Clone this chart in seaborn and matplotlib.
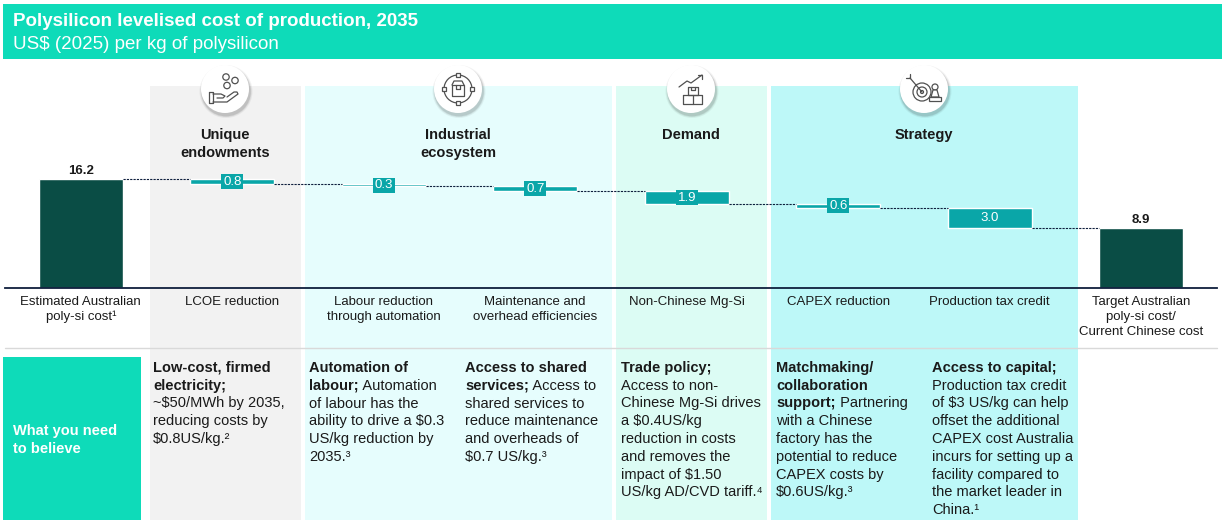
import numpy as np
import pandas as pd
import matplotlib
matplotlib.use("Agg")
import matplotlib.pyplot as plt
from matplotlib.patches import Rectangle, Circle, Polygon
import seaborn as sns

# values, US$ (2025) per kg of polysilicon
categories = [
    "Estimated Australian\npoly-si cost\u00b9",
    "LCOE reduction",
    "Labour reduction\nthrough automation",
    "Maintenance and\noverhead efficiencies",
    "Non-Chinese Mg-Si",
    "CAPEX reduction",
    "Production tax credit",
    "Target Australian\npoly-si cost/\nCurrent Chinese cost",
]
start_cost = 16.2
end_cost = 8.9
reductions = [0.8, 0.3, 0.7, 1.9, 0.6, 3.0]

groups = ["Unique\nendowments", "Industrial\necosystem", "Demand", "Strategy"]

# "what you need to believe" notes: (bold part, regular part) per line
notes = [
    [("Low-cost, firmed", ""), ("electricity;", ""), ("", "~$50/MWh by 2035,"),
     ("", "reducing costs by"), ("", "$0.8US/kg.\u00b2")],
    [("Automation of", ""), ("labour;", " Automation"), ("", "of labour has the"),
     ("", "ability to drive a $0.3"), ("", "US/kg reduction by"), ("", "2035.\u00b3")],
    [("Access to shared", ""), ("services;", " Access to"), ("", "shared services to"),
     ("", "reduce maintenance"), ("", "and overheads of"), ("", "$0.7 US/kg.\u00b3")],
    [("Trade policy;", ""), ("", "Access to non-"), ("", "Chinese Mg-Si drives"),
     ("", "a $0.4US/kg"), ("", "reduction in costs"), ("", "and removes the"),
     ("", "impact of $1.50"), ("", "US/kg AD/CVD tariff.\u2074")],
    [("Matchmaking/", ""), ("collaboration", ""), ("support;", " Partnering"),
     ("", "with a Chinese"), ("", "factory has the"), ("", "potential to reduce"),
     ("", "CAPEX costs by"), ("", "$0.6US/kg.\u00b3")],
    [("Access to capital;", ""), ("", "Production tax credit"), ("", "of $3 US/kg can help"),
     ("", "offset the additional"), ("", "CAPEX cost Australia"), ("", "incurs for setting up a"),
     ("", "facility compared to"), ("", "the market leader in"), ("", "China.\u00b9")],
]

BANNER = "#0EDBB9"
DARK = "#0A4D45"
TEAL = "#0AA6A8"
NAVY = "#0F1F3D"
TXT = "#1A1A1A"
ICON = "#505050"

sns.set_theme(style="white")
plt.rcParams["font.family"] = ["Liberation Sans", "DejaVu Sans"]

W, H = 1226, 526
fig = plt.figure(figsize=(W / 100, H / 100), dpi=100)

# background layer (pixel coordinates)
bg = fig.add_axes([0, 0, 1, 1], zorder=0)
bg.set_xlim(0, W)
bg.set_ylim(H, 0)
bg.axis("off")
bg.add_patch(Rectangle((3, 4), 1219, 55, color=BANNER, lw=0))
panels = [(150, 301, "#F2F2F2"), (305, 612, "#E6FDFD"), (616, 767, "#DCFCF4"), (771, 1078, "#BDF8F8")]
for x0, x1, c in panels:
    bg.add_patch(Rectangle((x0, 86), x1 - x0, 434, color=c, lw=0))
bg.plot([5, 1217], [348, 348], color="#D9D9D9", lw=1)
bg.add_patch(Rectangle((3, 357), 138, 163, color=BANNER, lw=0))

# chart layer
px_per_unit = 109 / start_cost
ax = fig.add_axes([5 / W, (H - 288) / H, 1212 / W, 202 / H], zorder=1)
ax.patch.set_alpha(0)

levels = start_cost - np.cumsum(reductions)
totals = pd.DataFrame({"cat": [categories[0], categories[-1]], "value": [start_cost, end_cost]})
steps = pd.DataFrame({"cat": categories[1:-1], "height": reductions, "bottom": levels})

bar_w = 0.555
sns.barplot(data=totals, x="cat", y="value", order=categories, color=DARK,
            saturation=1, width=bar_w, errorbar=None, ax=ax)
sns.barplot(data=steps, x="cat", y="height", order=categories, color=TEAL,
            saturation=1, width=bar_w, errorbar=None, ax=ax,
            bottom=steps["bottom"].to_numpy())

# dotted connectors
conn = np.concatenate([[start_cost], levels])
for i, lv in enumerate(conn):
    ax.plot([i + bar_w / 2, i + 1 - bar_w / 2], [lv, lv], color=NAVY, lw=0.8,
            ls=(0, (2, 1)))

# labels on bars
for i, (h, b) in enumerate(zip(reductions, levels), start=1):
    box = None
    if h * px_per_unit < 14:
        box = dict(boxstyle="square,pad=0.12", fc=TEAL, ec="none")
    ax.text(i, b + h / 2, f"{h:.1f}", ha="center", va="center", color="white",
            fontsize=9.5, bbox=box)
for i, v in [(0, start_cost), (len(categories) - 1, end_cost)]:
    ax.annotate(f"{v:.1f}", xy=(i, v), xytext=(0, 3.8), textcoords="offset points",
                ha="center", va="baseline", fontsize=9.5, fontweight="bold", color=TXT)

ax.set_xlim(-0.5, len(categories) - 0.5)
ax.set_ylim(0, 202 / px_per_unit)
ax.set_xlabel("")
ax.set_ylabel("")
ax.set_yticks([])
for s in ["top", "left", "right"]:
    ax.spines[s].set_visible(False)
ax.spines["bottom"].set_color(NAVY)
ax.spines["bottom"].set_linewidth(1.3)
ax.tick_params(axis="x", length=0, pad=5.5, labelsize=9.5, labelcolor=TXT)
for lab in ax.get_xticklabels():
    lab.set_linespacing(1.35)

# overlay layer: titles, icons, notes
ov = fig.add_axes([0, 0, 1, 1], zorder=2)
ov.set_xlim(0, W)
ov.set_ylim(H, 0)
ov.axis("off")

ov.text(13, 26, "Polysilicon levelised cost of production, 2035", color="white",
        fontsize=13.5, fontweight="bold", va="baseline")
ov.text(13, 49, "US$ (2025) per kg of polysilicon", color="white", fontsize=13.5,
        va="baseline")


def icon_base(cx, cy):
    for r, a in [(26.5, 0.05), (25.5, 0.07), (24.8, 0.09)]:
        ov.add_patch(Circle((cx + 1, cy + 2.5), r, color="black", alpha=a, lw=0))
    ov.add_patch(Circle((cx, cy), 24, color="white", lw=0))


def line(cx, cy, pts, **kw):
    pts = np.array(pts, dtype=float)
    ov.plot(cx + pts[:, 0], cy + pts[:, 1], color=ICON, lw=0.9,
            solid_capstyle="round", **kw)


def ring(cx, cy, dx, dy, r, fill="none"):
    ov.add_patch(Circle((cx + dx, cy + dy), r, fc=fill, ec=ICON, lw=0.9))


def draw_icon(kind, cx, cy):
    icon_base(cx, cy)
    if kind == 0:
        for dx, dy in [(1, -12), (10, -8.5), (2, -3.5)]:
            ring(cx, cy, dx, dy, 3.2)
        line(cx, cy, [(-16, 3), (-12, 3), (-12, 14), (-16, 14), (-16, 3)])
        line(cx, cy, [(-12, 5), (-4, 5), (0, 7), (-2, 9), (-8, 9)])
        line(cx, cy, [(-12, 13), (2, 13), (13, 5), (12, 3), (9, 3), (2, 8)])
    elif kind == 1:
        ring(cx, cy, 0, 0, 14)
        for dx, dy in [(0, -14), (0, 14), (-14, 0), (14, 0)]:
            ov.add_patch(Rectangle((cx + dx - 2, cy + dy - 2), 4, 4, fc="white",
                                   ec=ICON, lw=0.9))
        line(cx, cy, [(-6, -4), (6, -4), (6, 7), (-6, 7), (-6, -4)])
        line(cx, cy, [(-6, -4), (-4, -8), (4, -8), (6, -4)])
        line(cx, cy, [(-2, -4), (-2, 0), (2, 0), (2, -4)])
    elif kind == 2:
        line(cx, cy, [(-12, -2), (-4, -8), (0, -6), (11, -14)])
        line(cx, cy, [(7, -14), (11, -14), (11, -10)])
        line(cx, cy, [(-3, -2), (7, -2), (7, 6), (-3, 6), (-3, -2)])
        line(cx, cy, [(-8, 6), (11, 6), (11, 15), (-8, 15), (-8, 6)])
        line(cx, cy, [(1.5, 6), (1.5, 15)])
        line(cx, cy, [(0, -2), (0, 1), (4, 1), (4, -2)])
    else:
        ring(cx, cy, -2, 3, 9)
        ring(cx, cy, -2, 3, 5)
        ring(cx, cy, -2, 3, 1.5)
        line(cx, cy, [(-14, -11), (-2, 3)])
        line(cx, cy, [(-14, -11), (-14, -15)])
        line(cx, cy, [(-14, -11), (-18, -11)])
        ov.add_patch(Circle((cx + 11, cy - 2), 3, fc="white", ec=ICON, lw=0.9))
        ov.add_patch(Polygon([(cx + 9, cy + 1), (cx + 13, cy + 1), (cx + 15, cy + 8),
                              (cx + 7, cy + 8)], closed=True, fc="white", ec=ICON, lw=0.9))
        ov.add_patch(Rectangle((cx + 5, cy + 8), 12, 4, fc="white", ec=ICON, lw=0.9))


group_x = [225, 458, 691, 924]
for k, (gx, name) in enumerate(zip(group_x, groups)):
    draw_icon(k, gx, 89)
    for j, part in enumerate(name.split("\n")):
        ov.text(gx, 139 + 18 * j, part, ha="center", va="baseline", fontsize=10.5,
                fontweight="bold", color=TXT)

ov.text(13, 435, "What you need", color="white", fontsize=10.5, fontweight="bold",
        va="baseline")
ov.text(13, 453, "to believe", color="white", fontsize=10.5, fontweight="bold",
        va="baseline")

note_x = [153, 309, 465, 621, 776, 932]
for nx, note in zip(note_x, notes):
    for j, (b, r) in enumerate(note):
        y = 372 + 17.75 * j
        if b:
            t = ov.text(nx, y, b, fontsize=10.5, fontweight="bold", color=TXT,
                        va="baseline")
            if r:
                ov.annotate(r, xy=(1, y), xycoords=(t, "data"), fontsize=10.5,
                            color=TXT, va="baseline")
        else:
            ov.text(nx, y, r, fontsize=10.5, color=TXT, va="baseline")

fig.savefig("out.png", dpi=100)
